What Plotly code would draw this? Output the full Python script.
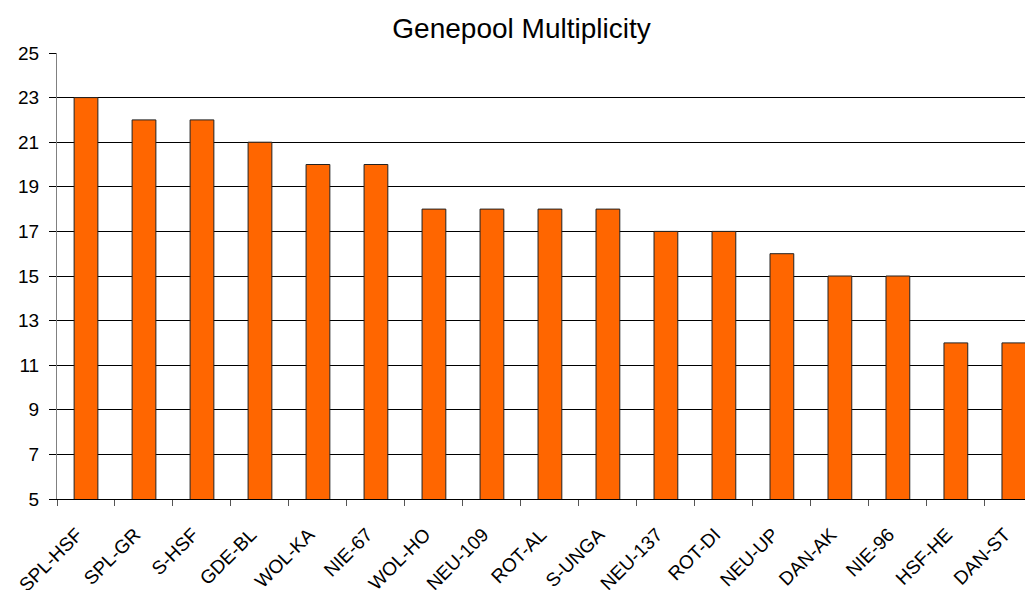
import plotly.graph_objects as go

categories = ["SPL-HSF", "SPL-GR", "S-HSF", "GDE-BL", "WOL-KA", "NIE-67", "WOL-HO",
              "NEU-109", "ROT-AL", "S-UNGA", "NEU-137", "ROT-DI", "NEU-UP", "DAN-AK",
              "NIE-96", "HSF-HE", "DAN-ST"]
values = [23, 22, 22, 21, 20, 20, 18, 18, 18, 18, 17, 17, 16, 15, 15, 12, 12]
y_ticks = list(range(5, 26, 2))

fig = go.Figure()
fig.add_trace(go.Bar(
    x=categories, y=values,
    marker=dict(color="#FF6600", line=dict(color="#222222", width=1)),
))

fig.update_layout(
    width=1025, height=582,
    margin=dict(l=49, r=0, t=45, b=91, autoexpand=False),
    paper_bgcolor="white", plot_bgcolor="white",
    bargap=0.59,
    showlegend=False,
    title=dict(text="Genepool Multiplicity", x=0.501, xanchor="center",
               y=0.966, yanchor="middle",
               font=dict(family="Liberation Sans, Arial", size=28, color="black")),
    font=dict(family="Liberation Sans, Arial", size=19, color="black"),
)
fig.update_xaxes(
    range=[-0.5, 16.33],
    tickangle=-45,
    tickson="boundaries",
    ticks="outside", ticklen=6, tickcolor="#555555",
    ticklabelstandoff=16, ticklabelshift=-9,
    showline=True, linecolor="black", linewidth=1,
    showgrid=False,
    automargin=False,
    tickfont=dict(size=19),
)
fig.update_yaxes(
    range=[5, 25],
    tickvals=y_ticks,
    ticks="outside", ticklen=7, tickcolor="black",
    ticklabelstandoff=6,
    showline=True, linecolor="#808080", linewidth=1,
    showgrid=True, gridcolor="black", gridwidth=1,
    zeroline=False,
    automargin=False,
    tickfont=dict(size=19),
)

fig.write_html("out.html")
